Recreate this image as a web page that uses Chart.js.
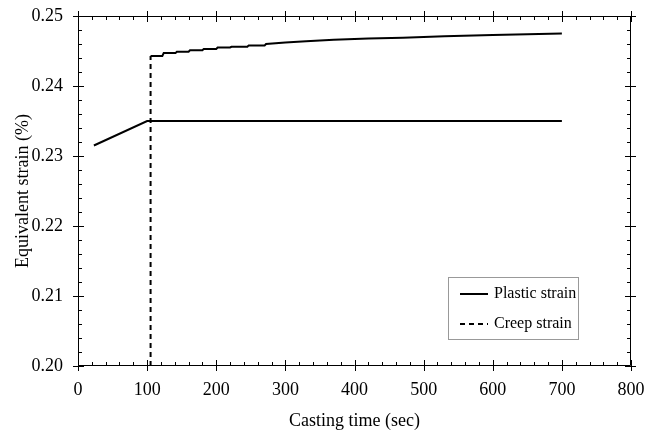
<!DOCTYPE html>
<html>
<head>
<meta charset="utf-8">
<script src="https://cdn.jsdelivr.net/npm/chart.js@4.4.1/dist/chart.umd.min.js"></script>
<style>
  html, body { margin: 0; padding: 0; background: #fff; }
  #wrap { width: 646px; height: 434px; }
</style>
</head>
<body>
<div id="wrap"><canvas id="chart_div"></canvas></div>
<script>
// casting time (sec) / equivalent strain (%)
var plasticTime = [23, 100, 700];
var plasticStrain = [0.2315, 0.2350, 0.2350];

var creepTime = [105, 105, 122, 124, 141, 143, 160, 162, 180, 182, 200, 202, 220, 222, 245, 247, 270, 272, 300, 330, 370, 420, 470, 530, 600, 650, 700];
var creepStrain = [0.2000, 0.2443, 0.2443, 0.2447, 0.2447, 0.2449, 0.2449, 0.2451, 0.2451, 0.2453, 0.2453, 0.2455, 0.2455, 0.2456, 0.2456, 0.2458, 0.2458, 0.2460, 0.2462, 0.2464, 0.2466, 0.2468, 0.2469, 0.2471, 0.2473, 0.2474, 0.2475];

var xTicks = [0, 100, 200, 300, 400, 500, 600, 700, 800];
var yTicks = [0.20, 0.21, 0.22, 0.23, 0.24, 0.25];

var seriesNames = ["Plastic strain", "Creep strain"];

var fontFam = "'Liberation Serif', 'Times New Roman', serif";

function toPoints(xs, ys){
  return xs.map(function(x, i){ return {x: x, y: ys[i]}; });
}

// inward minor ticks and crossing major ticks on all four sides
var frameTicks = {
  id: 'frameTicks',
  afterDraw: function(chart){
    var c = chart.ctx, a = chart.chartArea;
    var xs = chart.scales.x, ys = chart.scales.y;
    c.save();
    c.strokeStyle = '#000';
    c.lineWidth = 1;
    c.beginPath();
    c.rect(a.left + 0.5, a.top + 0.5, a.right - a.left - 1, a.bottom - a.top - 1);
    c.stroke();
    c.beginPath();
    for (var v = 0; v <= 800; v += 20) {
      var px = Math.round(xs.getPixelForValue(v)) + 0.5;
      var major = v % 100 == 0;
      var len = major ? 6 : 4;
      c.moveTo(px, a.bottom + (major ? 5 : 0)); c.lineTo(px, a.bottom - len);
      c.moveTo(px, a.top - (major ? 5 : 0)); c.lineTo(px, a.top + len);
    }
    for (var k = 0; k <= 25; k++) {
      var py = Math.round(ys.getPixelForValue(0.20 + k * 0.002)) + 0.5;
      var maj = k % 5 == 0;
      var l = maj ? 6 : 4;
      c.moveTo(a.left - (maj ? 5 : 0), py); c.lineTo(a.left + l, py);
      c.moveTo(a.right + (maj ? 5 : 0), py); c.lineTo(a.right - l, py);
    }
    c.stroke();

    // legend box
    var bx = 448, by = 277, bw = 130, bh = 62;
    c.strokeStyle = '#999';
    c.strokeRect(bx + 0.5, by + 0.5, bw, bh);
    c.font = "16px " + fontFam;
    c.fillStyle = '#000';
    c.textBaseline = 'middle';
    chart.data.datasets.slice(0, 2).forEach(function(ds, i){
      var ry = by + 17 + i * 30;
      c.strokeStyle = '#000';
      c.lineWidth = 2;
      c.setLineDash(ds.borderDash || []);
      c.beginPath();
      c.moveTo(bx + 12, ry); c.lineTo(bx + 40, ry);
      c.stroke();
      c.setLineDash([]);
      c.fillText(ds.label, bx + 46, ry);
    });
    c.restore();
  }
};

var ctx = document.getElementById('chart_div').getContext('2d');
var chart = new Chart(ctx, {
  type: 'scatter',
  data: {
    datasets: [{
      label: seriesNames[0],
      data: toPoints(plasticTime, plasticStrain),
      showLine: true,
      borderColor: '#000',
      borderWidth: 2,
      pointRadius: 0,
      tension: 0
    }, {
      label: seriesNames[1],
      data: toPoints(creepTime, creepStrain),
      showLine: true,
      borderColor: '#000',
      borderWidth: 2,
      borderDash: [5, 4],
      pointRadius: 0,
      tension: 0,
      segment: {
        // only the jump at the start is dashed, the rest is drawn solid
        borderDash: function(s){ return s.p0DataIndex == 0 ? [5, 4] : []; }
      }
    }]
  },
  options: {
    responsive: true,
    maintainAspectRatio: false,
    animation: false,
    layout: { padding: { top: 16, right: 15, left: 0, bottom: 0 } },
    plugins: { legend: { display: false }, tooltip: { enabled: false } },
    scales: {
      x: {
        type: 'linear', min: 0, max: 800,
        afterBuildTicks: function(s){ s.ticks = xTicks.map(function(v){ return {value: v}; }); },
        afterFit: function(s){ s.height = 434 - 366; s.paddingLeft = 0; s.paddingRight = 0; },
        grid: { display: false, drawTicks: false },
        border: { display: false },
        ticks: { color: '#000', padding: 13, maxRotation: 0, font: { family: fontFam, size: 18 } },
        title: { display: true, text: 'Casting time (sec)', color: '#000', padding: { top: 4, bottom: 2 }, font: { family: fontFam, size: 18 } }
      },
      y: {
        type: 'linear', min: 0.20, max: 0.25,
        afterBuildTicks: function(s){ s.ticks = yTicks.map(function(v){ return {value: v}; }); },
        afterFit: function(s){ s.width = 78; s.paddingTop = 0; s.paddingBottom = 0; },
        grid: { display: false, drawTicks: false },
        border: { display: false },
        ticks: { color: '#000', padding: 15, font: { family: fontFam, size: 18 },
          callback: function(v){ return Number(v).toFixed(2); } },
        title: { display: true, text: 'Equivalent strain (%)', color: '#000', padding: { top: 12, bottom: 0 }, font: { family: fontFam, size: 18 } }
      }
    }
  },
  plugins: [frameTicks]
});
</script>
</body>
</html>
